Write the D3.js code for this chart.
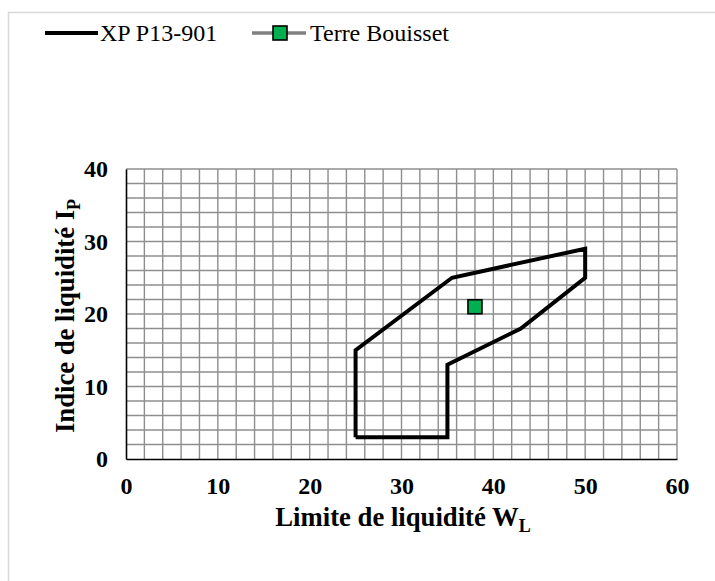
<!DOCTYPE html>
<html>
<head>
<meta charset="utf-8">
<script src="https://cdn.jsdelivr.net/npm/d3@7"></script>
<style>
    body { margin: 0; background: #fff; }
    .widget { width: 715px; height: 581px; }
</style>
</head>
<body>
<div class="widget"></div>
<script>
// zone XP P13-901 (WL, IP)
var zoneWL = [25, 25, 35.5, 50, 50, 43, 35, 35, 25];
var zoneIP = [3, 15, 25, 29, 25, 18, 13, 3, 3];
// Terre Bouisset
var soilWL = [38];
var soilIP = [21];
var xTicks = [0, 10, 20, 30, 40, 50, 60];
var yTicks = [0, 10, 20, 30, 40];
var seriesNames = ["XP P13-901", "Terre Bouisset"];

(function() {
    var width = 715, height = 581;
    var serif = "'Liberation Serif', 'Times New Roman', serif";
    var svg = d3.select(".widget").append("svg")
        .attr("width", width)
        .attr("height", height)
        .attr("font-family", serif);

    // chart frame
    svg.append("rect")
        .attr("x", 8.5).attr("y", 12.5)
        .attr("width", width + 10).attr("height", height + 10)
        .attr("fill", "none")
        .attr("stroke", "#d9d9d9")
        .attr("stroke-width", 1.5);

    var x = d3.scaleLinear().domain([0, 60]).range([126, 677]);
    var y = d3.scaleLinear().domain([0, 40]).range([459, 169]);

    // grid every 2 units
    var grid = svg.append("g").attr("stroke", "#8e8e8e").attr("stroke-width", 1.4);
    grid.selectAll("line.v")
        .data(d3.range(2, 61, 2))
        .enter().append("line")
        .attr("x1", function(d) { return x(d); }).attr("x2", function(d) { return x(d); })
        .attr("y1", y(0)).attr("y2", y(40));
    grid.selectAll("line.h")
        .data(d3.range(2, 41, 2))
        .enter().append("line")
        .attr("x1", x(0)).attr("x2", x(60))
        .attr("y1", function(d) { return y(d); }).attr("y2", function(d) { return y(d); });

    // axes
    var xAxis = svg.append("g")
        .attr("transform", "translate(0," + y(0) + ")")
        .call(d3.axisBottom(x).tickValues(xTicks).tickSize(0).tickPadding(25));
    var yAxis = svg.append("g")
        .attr("transform", "translate(" + x(0) + ",0)")
        .call(d3.axisLeft(y).tickValues(yTicks).tickSize(0).tickPadding(18));
    [xAxis, yAxis].forEach(function(a) {
        a.attr("font-family", serif);
        a.select(".domain").attr("stroke", "#000").attr("stroke-width", 1.6);
        a.selectAll("text")
            .attr("font-weight", "bold")
            .attr("font-size", 24)
            .attr("fill", "#000");
    });
    xAxis.selectAll("text").attr("dy", "0.4em");

    // zone polygon
    var line = d3.line()
        .x(function(d, i) { return x(zoneWL[i]); })
        .y(function(d, i) { return y(zoneIP[i]); });
    svg.append("path")
        .attr("d", line(zoneWL))
        .attr("fill", "none")
        .attr("stroke", "#000")
        .attr("stroke-width", 4)
        .attr("stroke-linejoin", "miter");

    // soil point
    svg.selectAll("rect.pt")
        .data(soilWL)
        .enter().append("rect")
        .attr("x", function(d) { return x(d) - 7; })
        .attr("y", function(d, i) { return y(soilIP[i]) - 7; })
        .attr("width", 14).attr("height", 14)
        .attr("fill", "#00b050")
        .attr("stroke", "#000")
        .attr("stroke-width", 1.6);

    // axis titles
    var xt = svg.append("text")
        .attr("x", 403).attr("y", 526)
        .attr("text-anchor", "middle")
        .attr("font-weight", "bold")
        .attr("font-size", 26.7);
    xt.append("tspan").text("Limite de liquidité W");
    xt.append("tspan").attr("font-size", 18).attr("dy", 6).text("L");

    var yt = svg.append("text")
        .attr("transform", "translate(74,316) rotate(-90)")
        .attr("text-anchor", "middle")
        .attr("font-weight", "bold")
        .attr("font-size", 26.7);
    yt.append("tspan").text("Indice de liquidité I");
    yt.append("tspan").attr("font-size", 18).attr("dy", 6).text("P");

    // legend
    var lg = svg.append("g").attr("font-size", 24).attr("font-family", serif);
    lg.append("line")
        .attr("x1", 45).attr("x2", 98).attr("y1", 33).attr("y2", 33)
        .attr("stroke", "#000").attr("stroke-width", 4);
    lg.append("text").attr("x", 100).attr("y", 41).text(seriesNames[0]);
    lg.append("line")
        .attr("x1", 252).attr("x2", 306).attr("y1", 33).attr("y2", 33)
        .attr("stroke", "#808080").attr("stroke-width", 3.5);
    lg.append("rect")
        .attr("x", 273).attr("y", 26).attr("width", 14).attr("height", 14)
        .attr("fill", "#00b050").attr("stroke", "#000").attr("stroke-width", 1.6);
    lg.append("text").attr("x", 310).attr("y", 41).text(seriesNames[1]);
})();
</script>
</body>
</html>
